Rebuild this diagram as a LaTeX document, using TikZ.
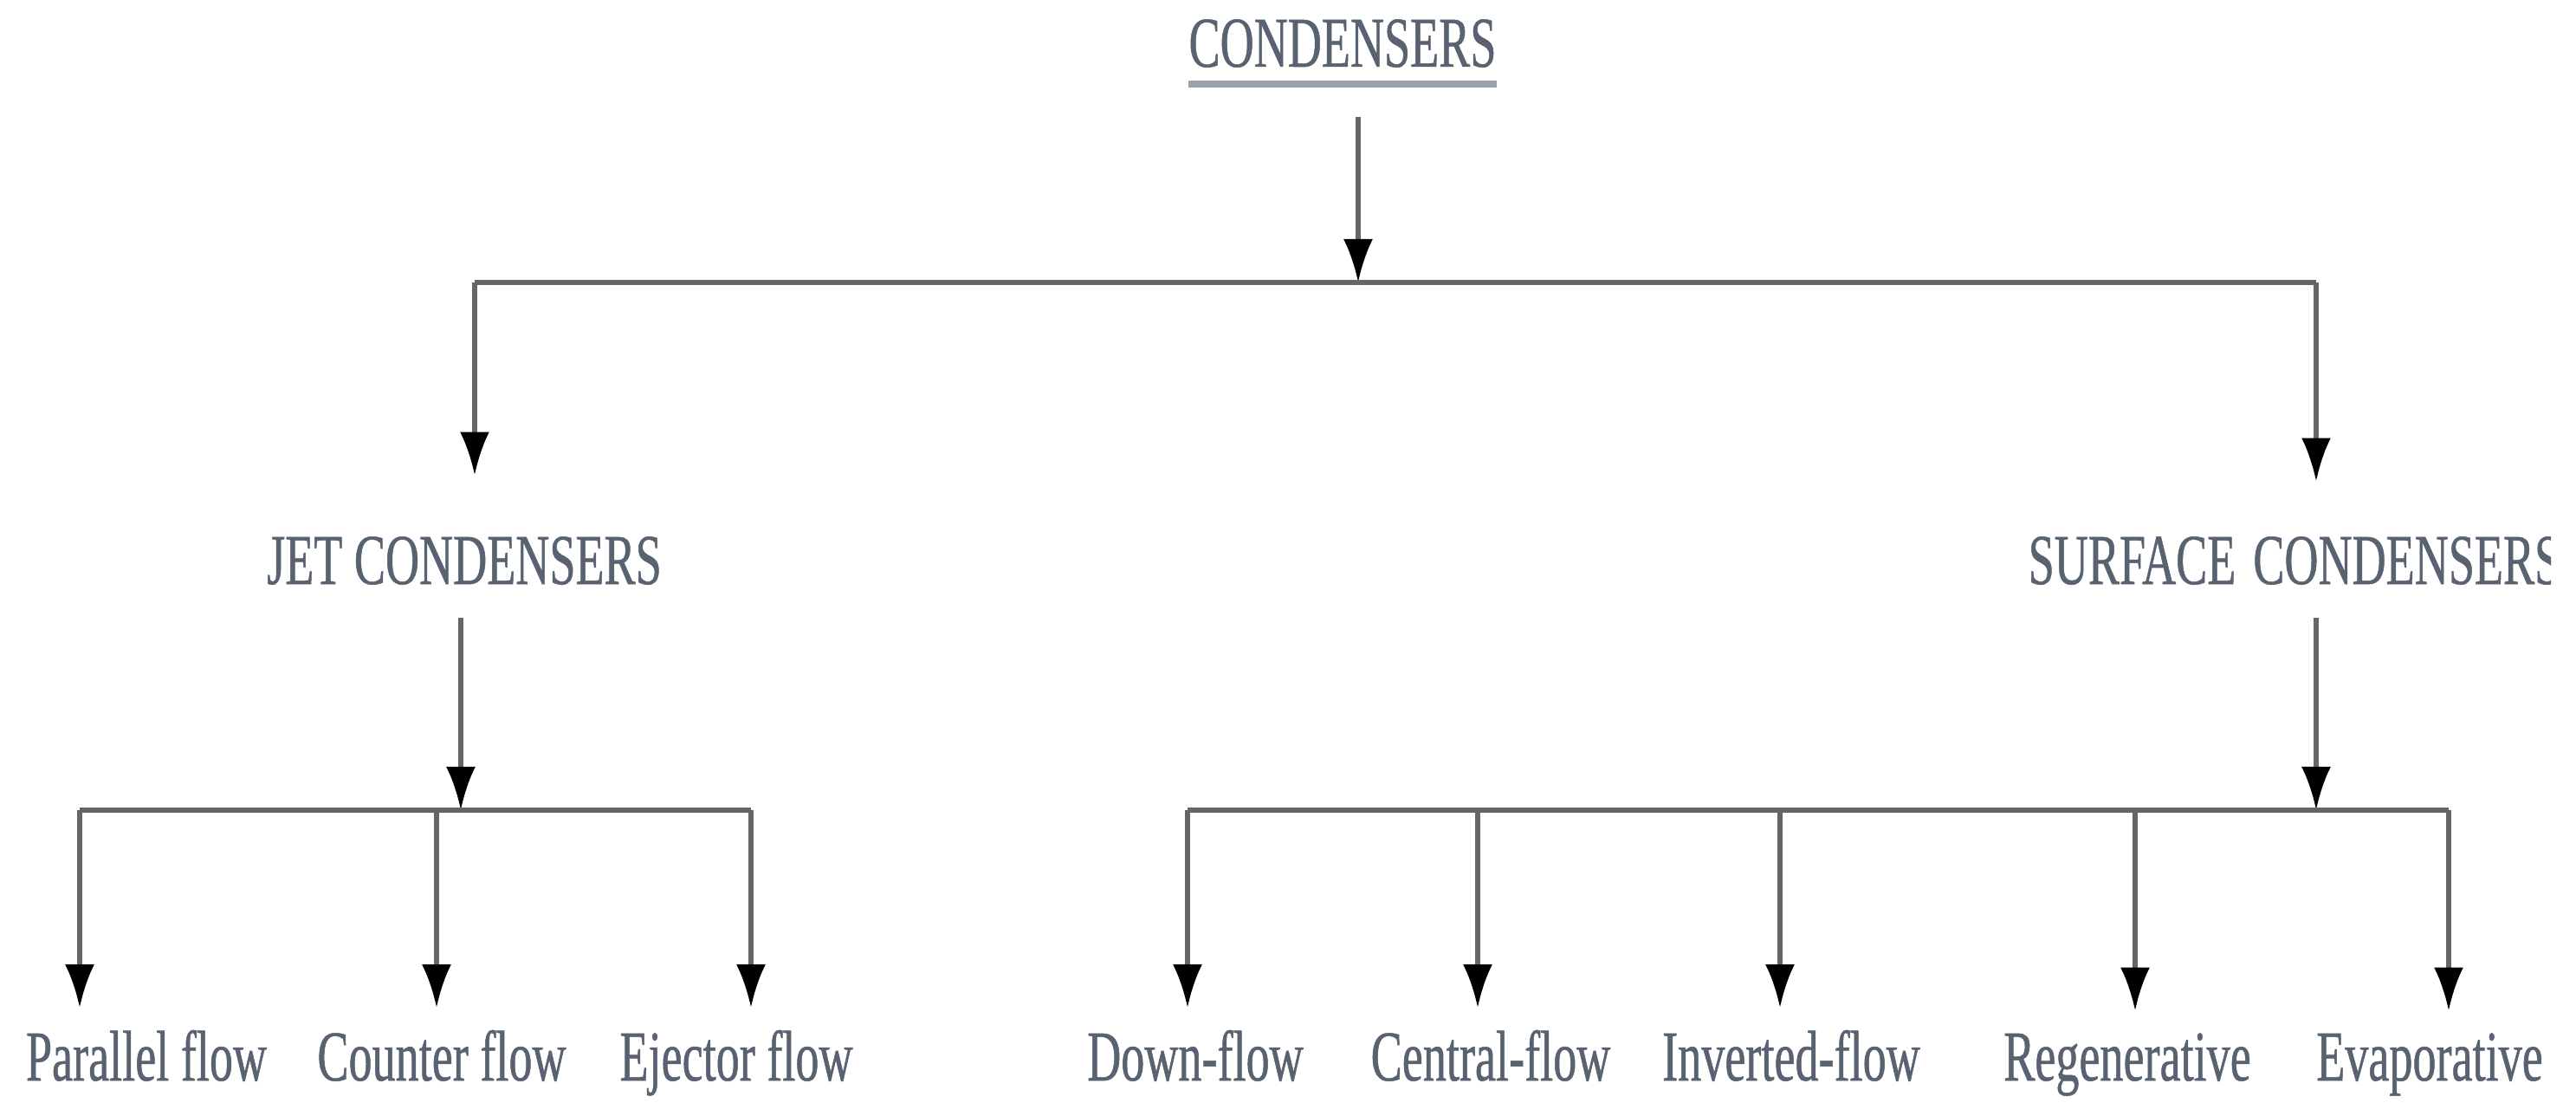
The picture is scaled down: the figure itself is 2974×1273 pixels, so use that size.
\documentclass[tikz,border=0pt]{standalone}
\usepackage{fontspec}
\setmainfont{Liberation Serif}[FakeStretch=0.655,FakeBold=0.6]
\usetikzlibrary{arrows.meta}
\definecolor{txtc}{HTML}{586271}
\definecolor{linec}{HTML}{666666}
\begin{document}
\begin{tikzpicture}[x=0.01cm,y=-0.01cm,
  lbl/.style={text=txtc, font=\fontsize{23.5}{27}\selectfont, inner sep=0pt, anchor=base},
  wire/.style={draw=linec, line width=1.8pt},
  arr/.style={draw=linec, line width=1.5pt, -{Latex[color=black,length=0.5cm,width=0.34cm]}}]
\useasboundingbox[fill=white] (0,0) rectangle (2974,1273);

% top
\node[lbl] (top) at (1550,77) {CONDENSERS};
\draw[draw=txtc!60, line width=2.5pt] ([yshift=-0.2cm]top.base west) -- ([yshift=-0.2cm]top.base east);
\coordinate (j0) at (1568,326);
\draw[arr, shorten <=0.56cm] (top.south -| j0) -- (j0);

% second level
\coordinate (jl) at (548,326);
\coordinate (jr) at (2674,326);
\draw[wire] (jl) -- (jr);
\node[lbl] (jet) at (536,674) {JET CONDENSERS};
\begin{scope}
\clip (0,0) rectangle (2945,1273);
\node[lbl, anchor=base west] (surf) at (2341,674) {SURFACE\hspace{0.2cm}CONDENSERS};
\end{scope}
\draw[arr, shorten >=0.7cm] (jl) -- (jl |- jet.north);
\draw[arr, shorten >=0.63cm] (jr) -- (jr |- surf.north);

% jet branch
\coordinate (jb) at (532,935);
\draw[arr, shorten <=0.37cm] (jet.south -| jb) -- (jb);
\coordinate (a1) at (92,935);
\coordinate (a2) at (504,935);
\coordinate (a3) at (867,935);
\draw[wire] (a1) -- (a3);
\node[lbl] (pf) at (169,1247) {Parallel flow};
\node[lbl] (cf) at (510,1247) {Counter flow};
\node[lbl] (ef) at (850,1247) {Ejector flow};
\draw[arr, shorten >=0.25cm] (a1) -- (a1 |- pf.north);
\draw[arr, shorten >=0.25cm] (a2) -- (a2 |- cf.north);
\draw[arr, shorten >=0.25cm] (a3) -- (a3 |- ef.north);

% surface branch
\coordinate (sb) at (2674,935);
\draw[arr, shorten <=0.37cm] (surf.south -| sb) -- (sb);
\coordinate (b1) at (1371,935);
\coordinate (b2) at (1706,935);
\coordinate (b3) at (2055,935);
\coordinate (b4) at (2465,935);
\coordinate (b5) at (2827,935);
\draw[wire] (b1) -- (b5);
\node[lbl] (df) at (1380,1247) {Down-flow};
\node[lbl] (ctf) at (1721,1247) {Central-flow};
\node[lbl] (inv) at (2068,1247) {Inverted-flow};
\node[lbl] (rg) at (2456,1247) {Regenerative};
\node[lbl] (ev) at (2805,1247) {Evaporative};
\draw[arr, shorten >=0.25cm] (b1) -- (b1 |- df.north);
\draw[arr, shorten >=0.25cm] (b2) -- (b2 |- ctf.north);
\draw[arr, shorten >=0.25cm] (b3) -- (b3 |- inv.north);
\draw[arr, shorten >=0.25cm] (b4) -- (b4 |- rg.north);
\draw[arr, shorten >=0.25cm] (b5) -- (b5 |- ev.north);
\end{tikzpicture}
\end{document}
